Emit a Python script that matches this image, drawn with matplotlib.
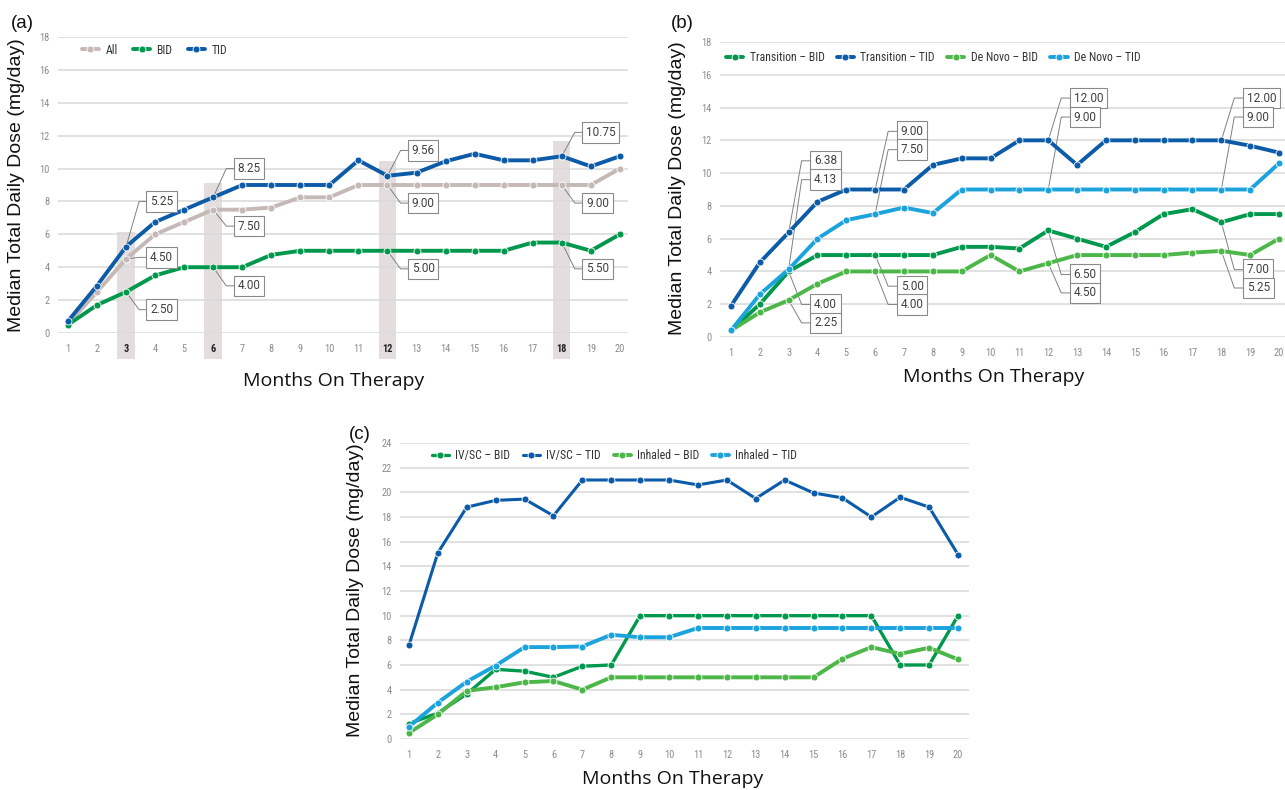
import matplotlib
matplotlib.use('Agg')
import matplotlib.pyplot as plt
from matplotlib import font_manager

W, H = 1285, 790

months = list(range(1, 21))

# panel (a): all patients vs BID vs TID
a_all = [0.55, 2.5, 4.5, 6.0, 6.75, 7.5, 7.5, 7.63, 8.25, 8.25, 9.0, 9.0, 9.0, 9.0, 9.0, 9.0, 9.0, 9.0, 9.0, 10.0]
a_bid = [0.5, 1.7, 2.5, 3.5, 4.0, 4.0, 4.0, 4.75, 5.0, 5.0, 5.0, 5.0, 5.0, 5.0, 5.0, 5.0, 5.5, 5.5, 5.0, 6.0]
a_tid = [0.72, 2.88, 5.25, 6.75, 7.5, 8.25, 9.0, 9.0, 9.0, 9.0, 10.5, 9.56, 9.75, 10.44, 10.9, 10.5, 10.5, 10.75, 10.13, 10.75]
a_marked = [3, 6, 12, 18]

# panel (b): transition vs de novo
b_trans_bid = [0.4, 2.0, 4.0, 5.0, 5.0, 5.0, 5.0, 5.0, 5.5, 5.5, 5.4, 6.5, 6.0, 5.5, 6.4, 7.5, 7.8, 7.0, 7.5, 7.5]
b_trans_tid = [1.9, 4.55, 6.38, 8.25, 9.0, 9.0, 9.0, 10.5, 10.9, 10.9, 12.0, 12.0, 10.5, 12.0, 12.0, 12.0, 12.0, 12.0, 11.67, 11.25]
b_novo_bid = [0.4, 1.5, 2.25, 3.25, 4.0, 4.0, 4.0, 4.0, 4.0, 5.0, 4.0, 4.5, 5.0, 5.0, 5.0, 5.0, 5.15, 5.25, 5.0, 6.0]
b_novo_tid = [0.4, 2.6, 4.13, 6.0, 7.13, 7.5, 7.9, 7.56, 9.0, 9.0, 9.0, 9.0, 9.0, 9.0, 9.0, 9.0, 9.0, 9.0, 9.0, 10.6]
b_marked = [3, 6, 12, 18]

# panel (c): IV/SC vs inhaled
c_iv_bid = [1.25, 2.1, 3.65, 5.65, 5.5, 5.0, 5.9, 6.0, 10.0, 10.0, 10.0, 10.0, 10.0, 10.0, 10.0, 10.0, 10.0, 6.0, 6.0, 10.0]
c_iv_tid = [7.6, 15.1, 18.8, 19.35, 19.45, 18.1, 21.0, 21.0, 21.0, 21.0, 20.6, 21.0, 19.5, 21.0, 19.95, 19.55, 18.0, 19.6, 18.8, 14.95]
c_inh_bid = [0.5, 2.0, 3.9, 4.2, 4.6, 4.7, 4.0, 5.0, 5.0, 5.0, 5.0, 5.0, 5.0, 5.0, 5.0, 6.5, 7.45, 6.9, 7.4, 6.45]
c_inh_tid = [1.0, 2.95, 4.65, 5.95, 7.45, 7.45, 7.5, 8.45, 8.25, 8.25, 9.0, 9.0, 9.0, 9.0, 9.0, 9.0, 9.0, 9.0, 9.0, 9.0]

# where the callout boxes sit (y of box centre), one per marked month
a_box_y = {'tid': [8.0, 10.0, 11.1, 12.2], 'all': [4.6, 6.5, 7.9, 7.9], 'bid': [1.42, 2.87, 3.9, 3.9]}
b_box_y = {'trans_tid': [10.75, 12.55, 14.58, 14.58], 'novo_tid': [9.6, 11.43, 13.42, 13.42],
           'trans_bid': [1.98, 3.1, 3.81, 4.11], 'novo_bid': [0.86, 1.98, 2.69, 2.99]}

GRAY = '#c4b9b7'
GREEN = '#00984c'
BLUE = '#0b5ba8'
LGREEN = '#4cb748'
LBLUE = '#1ba3dd'

avail = {f.name for f in font_manager.fontManager.ttflist}
NARROW = next((f for f in ['Liberation Sans Narrow', 'Roboto Condensed', 'Open Sans Condensed'] if f in avail), 'Roboto')

fig = plt.figure(figsize=(W / 100, H / 100), dpi=100)


def px_axes(left, right, top, bottom):
    return fig.add_axes([left / W, 1 - bottom / H, (right - left) / W, (bottom - top) / H])


def style_axes(ax, xlim, ymax, marked=()):
    ax.set_xlim(*xlim)
    ax.set_ylim(0, ymax)
    ax.set_yticks(range(0, ymax + 1, 2))
    ax.set_xticks(months)
    for s in ax.spines.values():
        s.set_visible(False)
    ax.yaxis.grid(True, color='#d9d9d9', lw=1.1)
    ax.set_axisbelow('line')
    ax.tick_params(length=0, labelsize=7.5, labelcolor='#8c8c8c')
    ax.tick_params(axis='x', pad=8)
    ax.tick_params(axis='y', pad=6)
    for lab in ax.get_xticklabels() + ax.get_yticklabels():
        lab.set_fontfamily(NARROW)
    for lab, m in zip(ax.get_xticklabels(), months):
        if m in marked:
            lab.set_color('#222222')
            lab.set_fontweight('bold')


def series(ax, y, color, label, lw=2.8):
    ax.plot(months, y, color=color, lw=lw, marker='o', ms=5, mec='white', mew=0.6,
            label=label, zorder=3, solid_capstyle='round')


def callout(ax, m, v, by, vx=0.45, bx=0.72):
    ax.plot([m, m + vx, m + bx], [v, by, by], color='#808080', lw=0.7, zorder=2, clip_on=False)
    ax.text(m + bx + 0.13, by, f'{v:.2f}', ha='left', va='center', fontsize=8.5, color='#404040',
            family='Roboto', zorder=6,
            bbox=dict(boxstyle='square,pad=0.32', fc='white', ec='#8a8a8a', lw=0.8))


def legend(ax, x, y, spacing):
    ax.legend(loc='center left', bbox_to_anchor=(x, y), ncol=4, frameon=False, borderpad=0,
              borderaxespad=0, handlelength=1.45, handletextpad=0.55, columnspacing=spacing,
              prop={'family': NARROW, 'size': 8.5}, labelcolor='#333333')


# ---- (a)
ax = px_axes(57.8, 628, 37, 333)
style_axes(ax, (0.65, 20.28), 18, a_marked)
tops = [max(a_all[m - 1], a_bid[m - 1], a_tid[m - 1]) + 0.9 for m in a_marked]
ax.bar(a_marked, [t + 1.6 for t in tops], bottom=-1.6, width=0.6, color='#e4dddd', zorder=1, clip_on=False)
series(ax, a_all, GRAY, 'All')
series(ax, a_bid, GREEN, 'BID')
series(ax, a_tid, BLUE, 'TID')
for i, m in enumerate(a_marked):
    callout(ax, m, a_tid[m - 1], a_box_y['tid'][i], bx=0.7)
    callout(ax, m, a_all[m - 1], a_box_y['all'][i], bx=0.7)
    callout(ax, m, a_bid[m - 1], a_box_y['bid'][i], bx=0.7)
legend(ax, 0.042, 0.956, 1.3)

# ---- (b)
ax = px_axes(720, 1284.8, 42, 337)
style_axes(ax, (0.62, 20.2), 18)
series(ax, b_trans_bid, GREEN, 'Transition – BID')
series(ax, b_trans_tid, BLUE, 'Transition – TID')
series(ax, b_novo_bid, LGREEN, 'De Novo – BID')
series(ax, b_novo_tid, LBLUE, 'De Novo – TID')
for i, m in enumerate(b_marked):
    callout(ax, m, b_trans_tid[m - 1], b_box_y['trans_tid'][i], bx=0.75)
    callout(ax, m, b_novo_tid[m - 1], b_box_y['novo_tid'][i], bx=0.75)
    callout(ax, m, b_trans_bid[m - 1], b_box_y['trans_bid'][i], bx=0.75)
    callout(ax, m, b_novo_bid[m - 1], b_box_y['novo_bid'][i], bx=0.75)
legend(ax, 0.0106, 0.946, 1.05)

# ---- (c)
ax = px_axes(400, 969, 443, 739)
style_axes(ax, (0.69, 20.38), 24)
series(ax, c_iv_bid, GREEN, 'IV/SC – BID', lw=2.4)
series(ax, c_iv_tid, BLUE, 'IV/SC – TID', lw=2.2)
series(ax, c_inh_bid, LGREEN, 'Inhaled – BID')
series(ax, c_inh_tid, LBLUE, 'Inhaled – TID')
legend(ax, 0.056, 0.959, 1.05)

# axis titles and panel letters
ylab = 'Median Total Daily Dose (mg/day)'
for x, y in [(17, 185), (677, 188), (355, 590)]:
    fig.text(x / W, 1 - y / H, ylab, rotation=90, ha='center', va='center', fontsize=14,
             family='Liberation Sans', color='#111111')
for x, y in [(334, 381), (994, 377), (673, 779)]:
    fig.text(x / W, 1 - y / H, 'Months On Therapy', ha='center', va='center', fontsize=14,
             family='Open Sans', color='#111111')
for x, y, s in [(22, 24, '(a)'), (682, 24, '(b)'), (360, 434, '(c)')]:
    fig.text(x / W, 1 - y / H, s, ha='center', va='center', fontsize=13.5, family='Liberation Sans',
             color='#111111')

fig.savefig('out.png', dpi=100)
